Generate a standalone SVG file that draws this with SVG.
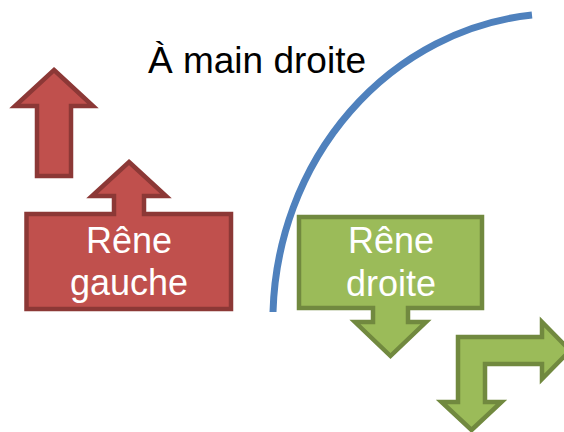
<svg xmlns="http://www.w3.org/2000/svg" width="564" height="432" viewBox="0 0 564 432">
<style>
.red{fill:#C0504D;stroke:#8C3836;stroke-width:4.5;stroke-linejoin:miter}
.green{fill:#9BBB59;stroke:#71893F;stroke-width:4.5;stroke-linejoin:miter}
.lbl{font-family:"Liberation Sans",Arial,sans-serif;font-size:36px;fill:#FFFFFF;text-anchor:middle}
.title{font-family:"Liberation Sans",Arial,sans-serif;font-size:37px;fill:#000000}
</style>
<rect width="564" height="432" fill="#FFFFFF"/>
<g id="arc">
<path d="M 273 312 A 288 308 0 0 1 532 15" fill="none" stroke="#4F81BD" stroke-width="7"/>
</g>
<g id="title">
<text class="title" x="148" y="73">À main droite</text>
</g>
<g id="up-arrow">
<polygon class="red" points="54,70 93,106 71,106 71,176 37,176 37,106 15,106"/>
</g>
<g id="rene-gauche">
<polygon class="red" points="129,162 166,196 144,196 144,214 231,214 231,309 26.5,309 26.5,214 114,214 114,196 92,196"/>
<text class="lbl" x="129" y="253">Rêne</text>
<text class="lbl" x="129" y="295">gauche</text>
</g>
<g id="rene-droite">
<polygon class="green" points="299,217 482,217 482,308 408,308 408,322 426,322 390.5,356 355,322 373,322 373,308 299,308"/>
<text class="lbl" x="391" y="253">Rêne</text>
<text class="lbl" x="391" y="296">droite</text>
</g>
<g id="bent-arrow">
<polygon class="green" points="471.5,430 501.5,402 485,402 485,364 542,364 542,379 570,350.5 542,322 542,337 458,337 458,402 441.5,402"/>
</g>
</svg>
